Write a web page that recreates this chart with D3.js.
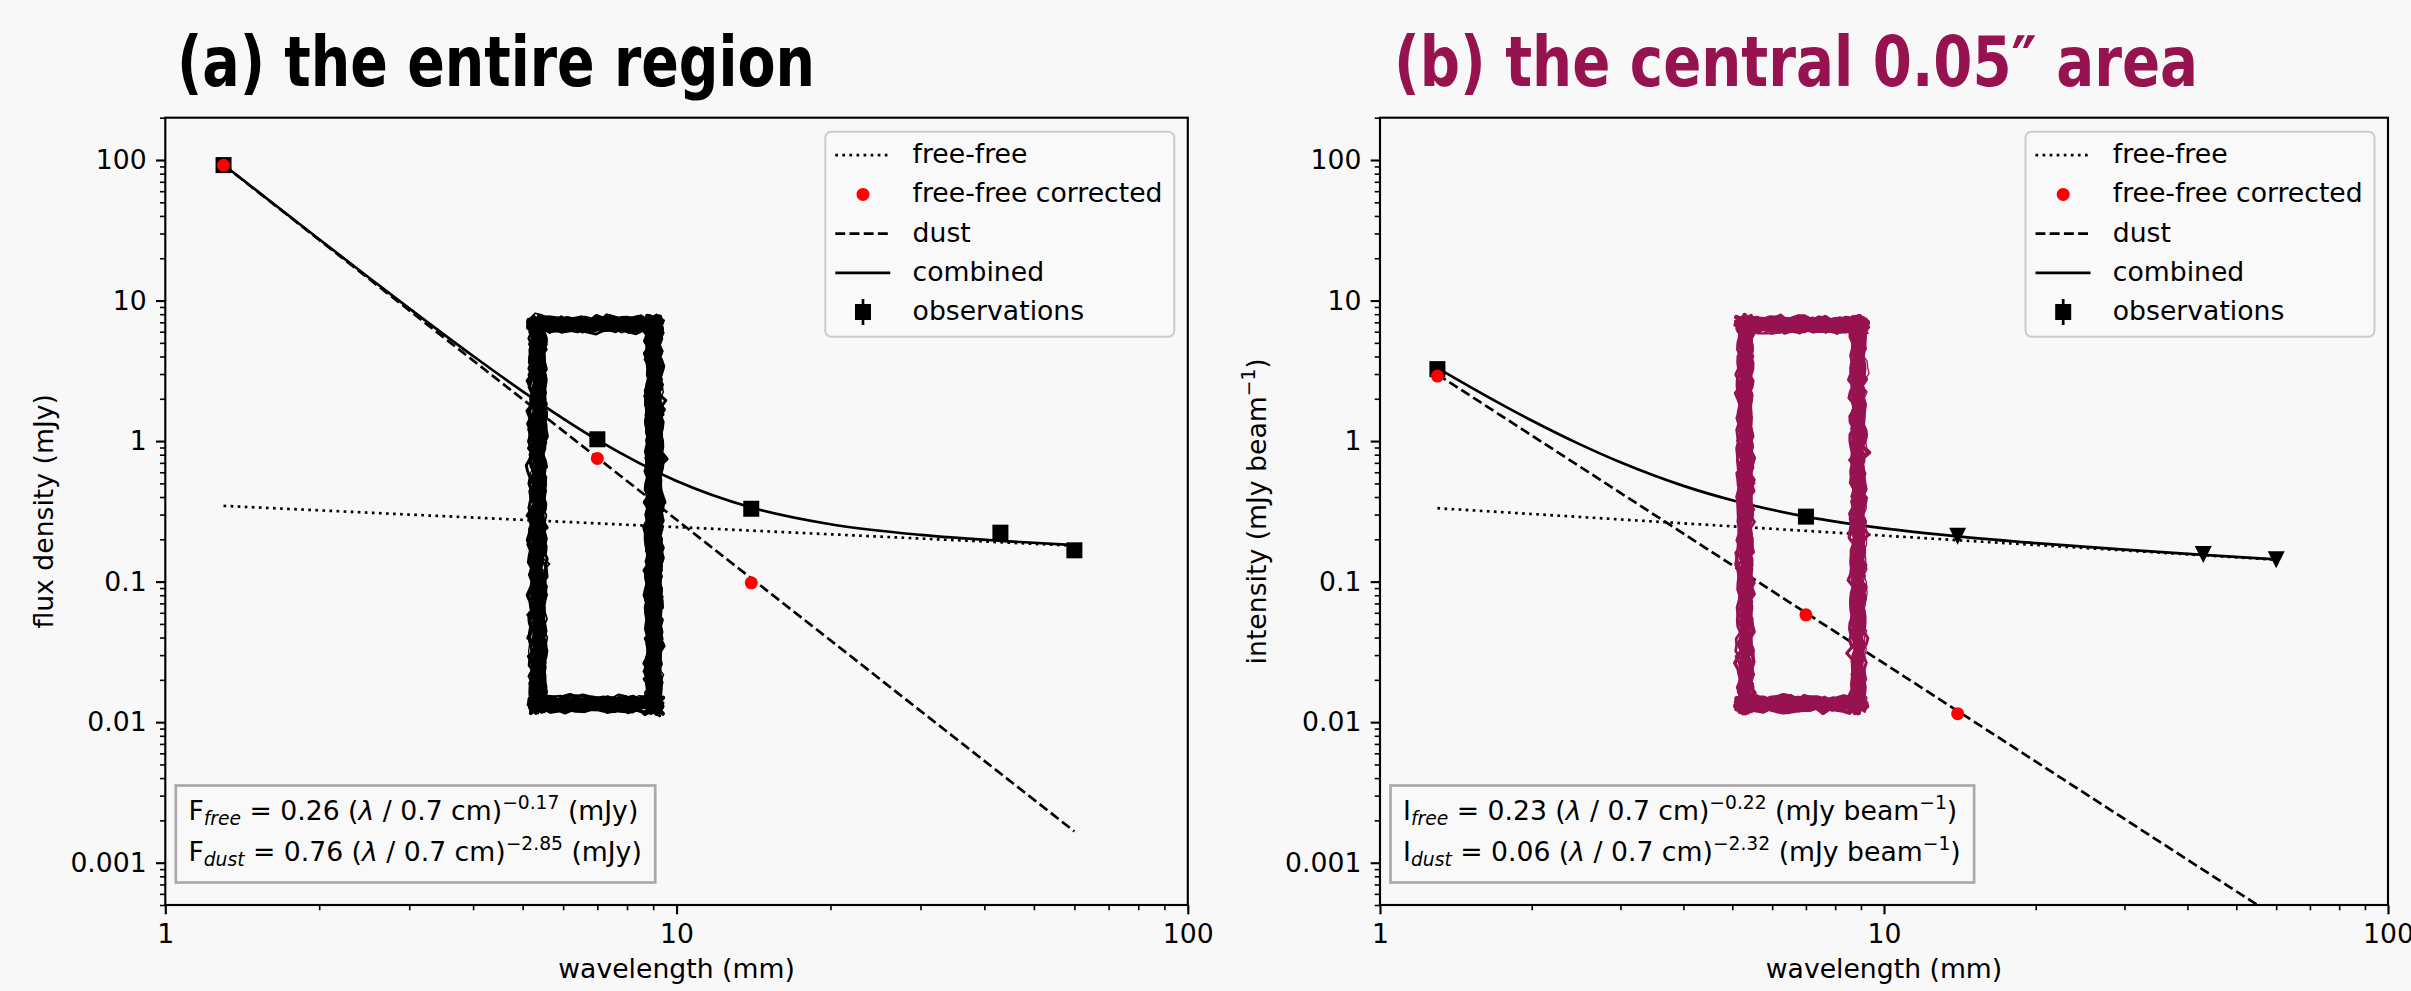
<!DOCTYPE html>
<html>
<head>
<meta charset="utf-8">
<script src="https://cdn.jsdelivr.net/npm/d3@7"></script>
<style>
  body { margin: 0; background: #f8f8f8; }
  svg { display: block; }
  text { font-family: "DejaVu Sans", sans-serif; white-space: pre; }
</style>
</head>
<body>
<svg id="fig" width="2411" height="991"></svg>
<script>
// values (wavelength in mm)

// (a) the entire region, flux density in mJy
var obsLamA = [1.3, 7, 14, 43, 60];
var obsA = [92, 1.03, 0.33, 0.223, 0.167];
var obsErrA = [9, 0.1, 0.03, 0.02, 0.015];
var corrLamA = [1.3, 7, 14];
var corrA = [91.7, 0.753, 0.098];
var freeLineA = [[1.3, 0.346], [60, 0.180]];
var dustLineA = [[1.3, 92.2], [60, 0.00167]];
var combLam = [1.3, 1.6, 2, 2.5, 3, 4, 5, 7, 10, 14, 20, 30, 43, 60];
var combA = [92.5, 51.3, 27.3, 14.6, 8.80, 4.03, 2.26, 1.02, 0.520, 0.337, 0.256, 0.215, 0.195, 0.182];

// (b) the central 0.05" area, intensity in mJy/beam
var obsLamB = [1.3, 7];
var obsB = [3.25, 0.29];
var obsErrB = [0.3, 0.03];
var limLamB = [14, 43, 60];
var limB = [0.21, 0.156, 0.143];
var corrLamB = [1.3, 7, 14];
var corrB = [2.9, 0.058, 0.0115];
var freeLineB = [[1.3, 0.333], [60, 0.143]];
var dustLineB = [[1.3, 2.98], [60, 0.00041]];
var combB = [3.31, 2.16, 1.40, 0.943, 0.706, 0.480, 0.379, 0.290, 0.239, 0.210, 0.188, 0.169, 0.155, 0.144];

// axes
var yTicks = [100, 10, 1, 0.1, 0.01, 0.001];
var yTickLabels = ["100", "10", "1", "0.1", "0.01", "0.001"];
var xTicks = [1, 10, 100];
var xTickLabels = ["1", "10", "100"];
var minorMult = [2, 3, 4, 5, 6, 7, 8, 9];
var legendLabels = ["free-free", "free-free corrected", "dust", "combined", "observations"];

var FS = 26.67;
var SUB = 18.7;
var LW = 2.67;
var maroon = "#971350";

var fig = d3.select("#fig");
fig.append("rect").attr("width", 2411).attr("height", 991).attr("fill", "#f8f8f8");
var defs = fig.append("defs");

function minorTicks(lo, hi) {
  var out = [];
  for (var e = -4; e <= 2; e++) {
    minorMult.forEach(function (m) {
      var v = m * Math.pow(10, e);
      if (v >= lo * 0.999 && v <= hi * 1.001) out.push(v);
    });
  }
  return out;
}

// rough hand-drawn box
function scribble(g, x0, y0, x1, y1, color, seed) {
  var rnd = d3.randomLcg(seed);
  var norm = d3.randomNormal.source(rnd)(0, 1);
  var line = d3.line().curve(d3.curveLinear);
  g.append("rect").attr("x", x0).attr("y", y0).attr("width", x1 - x0).attr("height", y1 - y0)
    .attr("fill", "none").attr("stroke", color).attr("stroke-width", 8);
  var sides = [[x0, y0, x1, y0], [x1, y0, x1, y1], [x1, y1, x0, y1], [x0, y1, x0, y0]];
  sides.forEach(function (s) {
    var len = Math.hypot(s[2] - s[0], s[3] - s[1]);
    var ux = (s[2] - s[0]) / len, uy = (s[3] - s[1]) / len;
    var px = -uy, py = ux;
    for (var k = 0; k < 26; k++) {
      var off = (rnd() - 0.5) * 14;
      var e0 = -10 + rnd() * 6, e1 = 10 - rnd() * 6;
      var n = Math.ceil(len / 6), pts = [];
      for (var i = 0; i <= n; i++) {
        var t = e0 + (len + e1 - e0) * i / n;
        var o = off + norm() * 1.7;
        pts.push([s[0] + ux * t + px * o, s[1] + uy * t + py * o]);
      }
      g.append("path").attr("d", line(pts))
        .attr("fill", "none").attr("stroke", color)
        .attr("stroke-width", 1.2 + rnd() * 3.4)
        .attr("stroke-linecap", "round").attr("stroke-linejoin", "round");
    }
  });
}

function eqLine(g, x, y, sym, sub, amp, idx, unit, unitSup) {
  var t = g.append("text").attr("x", x).attr("y", y).attr("font-size", FS).attr("fill", "black");
  t.append("tspan").text(sym);
  t.append("tspan").attr("font-size", SUB).attr("font-style", "italic").attr("dy", 5.5).text(sub);
  t.append("tspan").attr("dy", -5.5).text(" = " + amp + " (");
  t.append("tspan").attr("font-style", "italic").text("\u03bb");
  t.append("tspan").text(" / 0.7 cm)");
  t.append("tspan").attr("font-size", SUB).attr("dy", -11).text(idx);
  t.append("tspan").attr("dy", 11).text(" (" + unit);
  if (unitSup) {
    t.append("tspan").attr("font-size", SUB).attr("dy", -11).text(unitSup);
    t.append("tspan").attr("dy", 11).text(")");
  } else {
    t.append("tspan").text(")");
  }
  return t;
}

function drawPanel(p) {
  var x = d3.scaleLog().domain([1, 100]).range([p.left, p.right]);
  var y = d3.scaleLog().domain([0.0005, 200]).range([p.bottom, p.top]);
  var w = p.right - p.left, h = p.bottom - p.top;

  var clipId = "clip" + p.id;
  defs.append("clipPath").attr("id", clipId).append("rect")
    .attr("x", p.left).attr("y", p.top).attr("width", w).attr("height", h);

  // ticks
  var ya = fig.append("g").attr("transform", "translate(" + p.left + ",0)")
    .call(d3.axisLeft(y).tickValues(yTicks).tickFormat(function (d, i) { return yTickLabels[i]; })
      .tickSize(9.3).tickPadding(9.3));
  var yam = fig.append("g").attr("transform", "translate(" + p.left + ",0)")
    .call(d3.axisLeft(y).tickValues(minorTicks(0.0005, 200)).tickFormat("").tickSize(5.3));
  var xa = fig.append("g").attr("transform", "translate(0," + p.bottom + ")")
    .call(d3.axisBottom(x).tickValues(xTicks).tickFormat(function (d, i) { return xTickLabels[i]; })
      .tickSize(9.3).tickPadding(9.3));
  var xam = fig.append("g").attr("transform", "translate(0," + p.bottom + ")")
    .call(d3.axisBottom(x).tickValues(minorTicks(1, 100)).tickFormat("").tickSize(5.3));
  [ya, yam, xa, xam].forEach(function (a) {
    a.select(".domain").remove();
    a.selectAll("text").attr("font-family", "DejaVu Sans").attr("font-size", FS).attr("fill", "black");
  });
  ya.selectAll("line").attr("stroke-width", 2.13);
  xa.selectAll("line").attr("stroke-width", 2.13);
  yam.selectAll("line").attr("stroke-width", 1.6);
  xam.selectAll("line").attr("stroke-width", 1.6);

  // axis labels
  fig.append("text").attr("x", (p.left + p.right) / 2).attr("y", 978)
    .attr("text-anchor", "middle").attr("font-size", FS).text("wavelength (mm)");
  var yl = fig.append("text")
    .attr("transform", "translate(" + p.ylabelX + "," + ((p.top + p.bottom) / 2) + ") rotate(-90)")
    .attr("text-anchor", "middle").attr("font-size", FS);
  yl.append("tspan").text(p.ylabel);
  if (p.ylabelSup) {
    yl.append("tspan").attr("font-size", SUB).attr("dy", -11).text(p.ylabelSup);
    yl.append("tspan").attr("dy", 11).text(")");
  }

  // data
  var plot = fig.append("g").attr("clip-path", "url(#" + clipId + ")");
  var line = d3.line().x(function (d) { return x(d[0]); }).y(function (d) { return y(d[1]); });

  plot.append("path").attr("d", line(p.free)).attr("fill", "none").attr("stroke", "black")
    .attr("stroke-width", LW).attr("stroke-dasharray", "2.67 4.4");
  plot.append("path").attr("d", line(p.dust)).attr("fill", "none").attr("stroke", "black")
    .attr("stroke-width", LW).attr("stroke-dasharray", "9.9 4.3");
  var comb = combLam.map(function (l, i) { return [l, p.comb[i]]; });
  plot.append("path").attr("d", line.curve(d3.curveMonotoneX)(comb)).attr("fill", "none")
    .attr("stroke", "black").attr("stroke-width", LW);
  line.curve(d3.curveLinear);

  // observations with error bars
  p.obsLam.forEach(function (l, i) {
    var v = p.obs[i], e = p.obsErr[i];
    plot.append("line").attr("x1", x(l)).attr("x2", x(l))
      .attr("y1", y(v + e)).attr("y2", y(Math.max(v - e, 1e-5)))
      .attr("stroke", "black").attr("stroke-width", LW);
    plot.append("rect").attr("x", x(l) - 8).attr("y", y(v) - 8)
      .attr("width", 16).attr("height", 16).attr("fill", "black");
  });
  // upper limits
  (p.limLam || []).forEach(function (l, i) {
    var cx = x(l), cy = y(p.lim[i]);
    plot.append("path")
      .attr("d", "M" + (cx - 8.5) + "," + (cy - 8.5) + "L" + (cx + 8.5) + "," + (cy - 8.5) + "L" + cx + "," + (cy + 8.5) + "Z")
      .attr("fill", "black");
  });
  // free-free corrected
  p.corrLam.forEach(function (l, i) {
    plot.append("circle").attr("cx", x(l)).attr("cy", y(p.corr[i])).attr("r", 6.5).attr("fill", "red");
  });

  // spines
  fig.append("rect").attr("x", p.left).attr("y", p.top).attr("width", w).attr("height", h)
    .attr("fill", "none").attr("stroke", "black").attr("stroke-width", 2.13);

  // legend
  var lx = p.right - 13.5 - 349, ly = p.top + 14;
  var lg = fig.append("g");
  lg.append("rect").attr("x", lx).attr("y", ly).attr("width", 349).attr("height", 205)
    .attr("rx", 6).attr("fill", "#f9f9f9").attr("stroke", "#cccccc").attr("stroke-width", 2);
  legendLabels.forEach(function (lab, i) {
    var hy = p.top + 37.5 + i * 39.2;
    var h0 = lx + 10, h1 = lx + 65, hc = lx + 37.7;
    if (i === 0) lg.append("line").attr("x1", h0).attr("x2", h1).attr("y1", hy).attr("y2", hy)
      .attr("stroke", "black").attr("stroke-width", LW).attr("stroke-dasharray", "2.67 4.4");
    if (i === 1) lg.append("circle").attr("cx", hc).attr("cy", hy).attr("r", 6.5).attr("fill", "red");
    if (i === 2) lg.append("line").attr("x1", h0).attr("x2", h1).attr("y1", hy).attr("y2", hy)
      .attr("stroke", "black").attr("stroke-width", LW).attr("stroke-dasharray", "9.9 4.3");
    if (i === 3) lg.append("line").attr("x1", h0).attr("x2", h1).attr("y1", hy).attr("y2", hy)
      .attr("stroke", "black").attr("stroke-width", LW);
    if (i === 4) {
      lg.append("line").attr("x1", hc).attr("x2", hc).attr("y1", hy - 13).attr("y2", hy + 13)
        .attr("stroke", "black").attr("stroke-width", LW);
      lg.append("rect").attr("x", hc - 8).attr("y", hy - 8).attr("width", 16).attr("height", 16).attr("fill", "black");
    }
    lg.append("text").attr("x", lx + 87.3).attr("y", hy + 8).attr("font-size", FS).text(lab);
  });

  // fit equations
  var eg = fig.append("g");
  var bx = p.left + 10.5, by = p.bottom - 119.5;
  var box = eg.append("rect").attr("x", bx).attr("y", by).attr("height", 97)
    .attr("fill", "#f9f9f9").attr("stroke", "#aaaaaa").attr("stroke-width", 2.7);
  var t1 = eqLine(eg, bx + 12.6, p.bottom - 85.5, p.sym, "free", p.eq[0][0], p.eq[0][1], p.unit, p.unitSup);
  var t2 = eqLine(eg, bx + 12.6, p.bottom - 44.5, p.sym, "dust", p.eq[1][0], p.eq[1][1], p.unit, p.unitSup);
  var tw = Math.max(t1.node().getComputedTextLength(), t2.node().getComputedTextLength());
  box.attr("width", tw + 26);

  // hand-drawn box over the 7 mm band
  scribble(fig.append("g"), x(p.band[0]), y(p.band[1]), x(p.band[2]), y(p.band[3]), p.color, p.seed);

  // title
  fig.append("text").attr("x", p.titleX).attr("y", 86)
    .attr("font-family", "Lato, 'Open Sans', sans-serif").attr("font-weight", 900)
    .attr("font-size", 70).attr("fill", p.color).text(p.title)
    .attr("textLength", p.titleW).attr("lengthAdjust", "spacingAndGlyphs");
}

drawPanel({
  id: "a", left: 165.3, right: 1187.8, top: 117.7, bottom: 905,
  ylabel: "flux density (mJy)", ylabelX: 53,
  free: freeLineA, dust: dustLineA, comb: combA,
  obsLam: obsLamA, obs: obsA, obsErr: obsErrA,
  corrLam: corrLamA, corr: corrA,
  sym: "F", unit: "mJy", eq: [["0.26", "\u22120.17"], ["0.76", "\u22122.85"]],
  band: [5.35, 6.7, 9.0, 0.0135], color: "black", seed: 0.21,
  title: "(a) the entire region", titleX: 177, titleW: 638
});

drawPanel({
  id: "b", left: 1380, right: 2388, top: 117.7, bottom: 905,
  ylabel: "intensity (mJy beam", ylabelSup: "\u22121", ylabelX: 1266,
  free: freeLineB, dust: dustLineB, comb: combB,
  obsLam: obsLamB, obs: obsB, obsErr: obsErrB,
  limLam: limLamB, lim: limB,
  corrLam: corrLamB, corr: corrB,
  sym: "I", unit: "mJy beam", unitSup: "\u22121", eq: [["0.23", "\u22120.22"], ["0.06", "\u22122.32"]],
  band: [5.3, 6.7, 8.9, 0.0135], color: maroon, seed: 0.57,
  title: "(b) the central 0.05\u2033 area", titleX: 1394, titleW: 804
});
</script>
</body>
</html>
